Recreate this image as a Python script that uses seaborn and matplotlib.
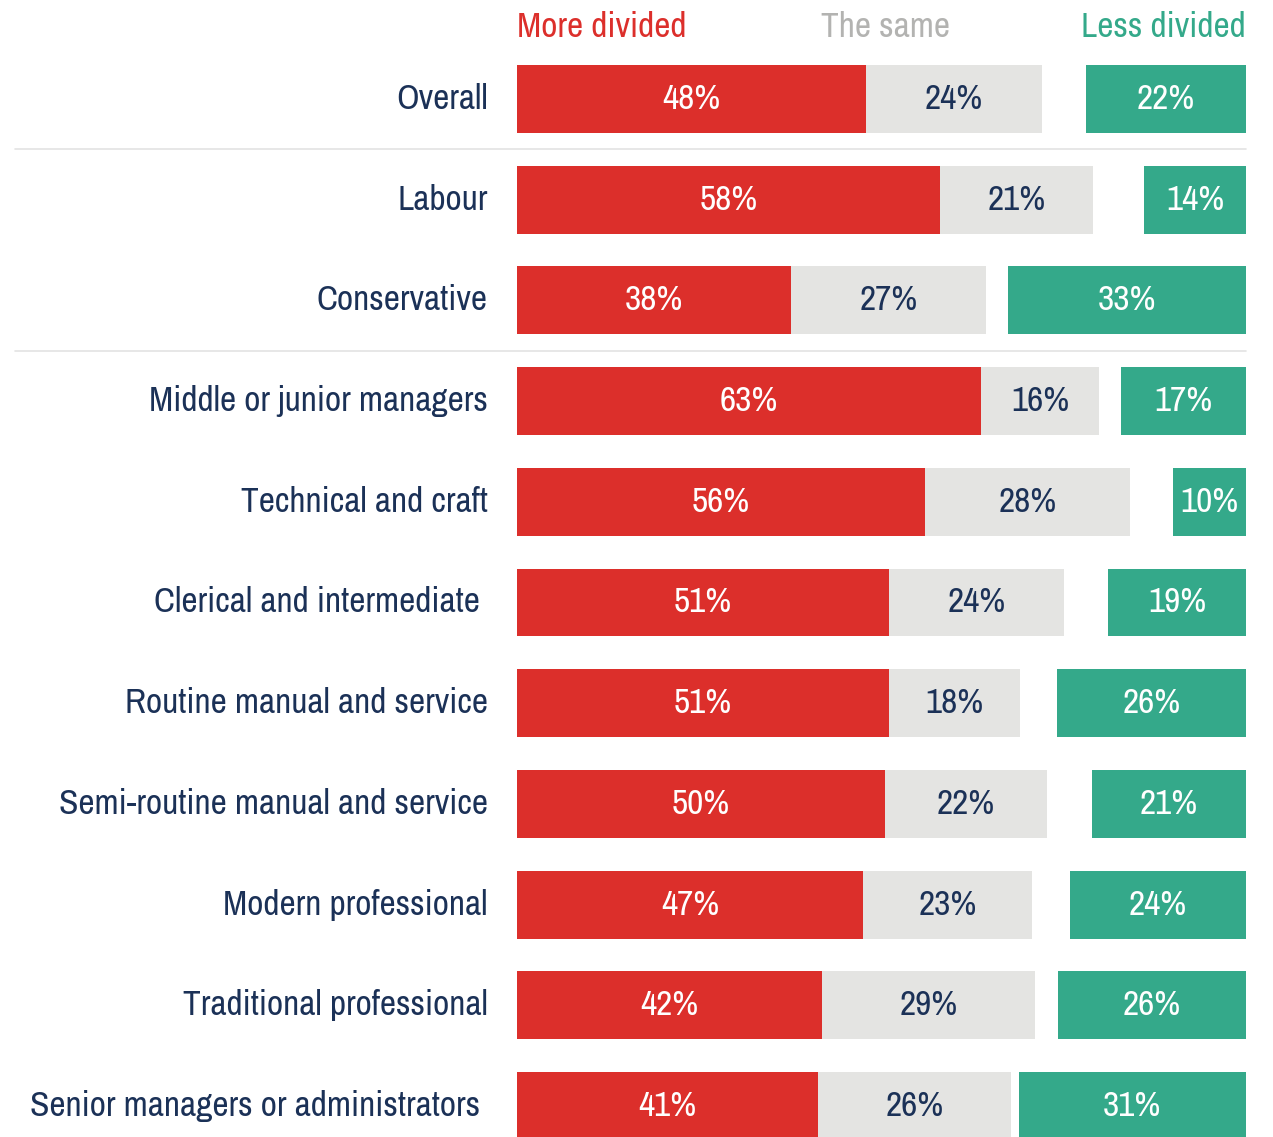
import numpy as np
import pandas as pd
import matplotlib
matplotlib.use("Agg")
import matplotlib.pyplot as plt
import seaborn as sns

# --- Data ---
categories = ["Overall", "Labour", "Conservative", "Middle or junior managers",
              "Technical and craft", "Clerical and intermediate ",
              "Routine manual and service", "Semi-routine manual and service",
              "Modern professional", "Traditional professional",
              "Senior managers or administrators "]
# printed percentages
more_pct = [48, 58, 38, 63, 56, 51, 51, 50, 47, 42, 41]
same_pct = [24, 21, 27, 16, 28, 24, 18, 22, 23, 29, 26]
less_pct = [22, 14, 33, 17, 10, 19, 26, 21, 24, 26, 31]
# bar lengths as drawn (unrounded)
more_len = [47.9, 58.0, 37.6, 63.6, 56.0, 51.0, 51.0, 50.5, 47.5, 41.9, 41.3]
same_len = [24.1, 21.0, 26.8, 16.3, 28.1, 24.0, 18.0, 22.2, 23.2, 29.2, 26.5]
less_len = [21.9, 14.0, 32.6, 17.1, 10.0, 18.9, 25.9, 21.1, 24.1, 25.8, 31.2]
headers = ["More divided", "The same", "Less divided"]

# --- Style ---
sns.set_theme(style="white")
plt.rcParams['font.family'] = ['Archivo Narrow', 'DejaVu Sans']

RED = "#DC2F2B"
GREY = "#E4E4E2"
GREEN = "#34A98A"
NAVY = "#1B3157"
HEAD_GREY = "#B3B3B1"
SEP = "#E3E3E3"

df = pd.DataFrame({"category": categories, "more": more_len,
                   "same": same_len, "less": less_len})
df["more_same"] = df["more"] + df["same"]

fig = plt.figure(figsize=(12.73, 11.37), dpi=100)
ax = fig.add_axes([517 / 1273, 0, 729 / 1273, 1])

bar_h = 0.675
sns.barplot(data=df, x="more_same", y="category", orient="h", color=GREY,
            saturation=1, width=bar_h, linewidth=0, ax=ax)
sns.barplot(data=df, x="more", y="category", orient="h", color=RED,
            saturation=1, width=bar_h, linewidth=0, ax=ax)
ax.barh(np.arange(len(df)), df["less"], left=100 - df["less"], height=bar_h,
        color=GREEN, linewidth=0)

ax.set_xlim(0, 100)
ax.set_ylim(10.308, -0.983)
ax.axis("off")

fs = 25.5
for i, row in df.iterrows():
    ax.text(-4.0, i, row["category"], ha="right", va="center",
            fontsize=fs, color=NAVY)
    ax.text(row["more"] / 2, i, f"{more_pct[i]}%", ha="center", va="center",
            fontsize=fs, color="white")
    ax.text(row["more"] + row["same"] / 2, i, f"{same_pct[i]}%", ha="center",
            va="center", fontsize=fs, color=NAVY)
    ax.text(100 - row["less"] / 2, i, f"{less_pct[i]}%", ha="center",
            va="center", fontsize=fs, color="white")

# header labels
hy = -0.715
ax.text(0, hy, headers[0], ha="left", va="center", fontsize=fs, color=RED)
ax.text(50.6, hy, headers[1], ha="center", va="center", fontsize=fs, color=HEAD_GREY)
ax.text(100, hy, headers[2], ha="right", va="center", fontsize=fs, color=GREEN)

# separator lines
for y in [0.5, 2.5]:
    ax.plot([-68.9, 100], [y, y], color=SEP, lw=1.2, clip_on=False)

fig.savefig("out.png", dpi=100)
